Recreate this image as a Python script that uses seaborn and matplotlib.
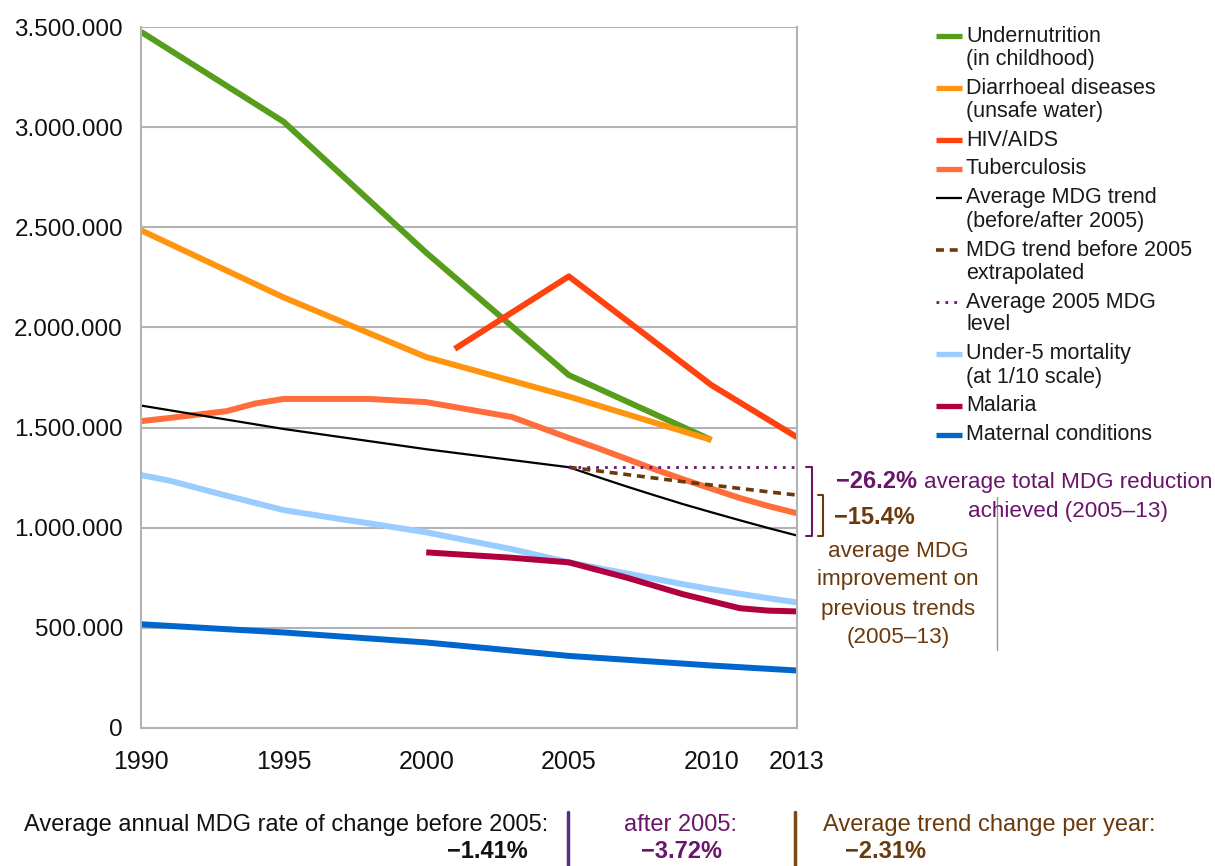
import matplotlib
matplotlib.use("Agg")
import matplotlib.pyplot as plt
import matplotlib.transforms as mtransforms
from matplotlib.lines import Line2D
from matplotlib.ticker import FuncFormatter
import pandas as pd
import seaborn as sns

# data (deaths per year)
undernutrition_years = [1990, 1995, 2000, 2005, 2010]
undernutrition = [3476000, 3027000, 2373000, 1762000, 1438000]

diarrhoea_years = [1990, 1995, 2000, 2005, 2010]
diarrhoea = [2485000, 2150000, 1852000, 1655000, 1438000]

hiv_years = [2001, 2005, 2010, 2013]
hiv = [1893000, 2255000, 1712000, 1452000]

tb_years = [1990, 1991, 1992, 1993, 1994, 1995, 1998, 2000, 2003, 2005,
            2006, 2007, 2008, 2009, 2010, 2011, 2012, 2013]
tb = [1532000, 1548000, 1565000, 1582000, 1620000, 1643000, 1643000, 1627000,
      1553000, 1448000, 1398000, 1345000, 1292000, 1242000, 1195000, 1148000,
      1108000, 1072000]

under5_years = [1990, 1991, 1993, 1995, 1997, 1998, 2000, 2003, 2005, 2009,
                2010, 2011, 2012, 2013]
under5 = [1263000, 1235000, 1160000, 1088000, 1043000, 1022000, 977000, 893000,
          827000, 718000, 693000, 670000, 648000, 627000]

malaria_years = [2000, 2003, 2005, 2007, 2009, 2011, 2012, 2013]
malaria = [877000, 850000, 827000, 752000, 668000, 598000, 586000, 582000]

maternal_years = [1990, 1995, 2000, 2005, 2010, 2013]
maternal = [518000, 477000, 427000, 360000, 312000, 287000]

trend_years = [1990, 1995, 2000, 2005, 2006, 2007, 2008, 2009, 2010, 2011, 2012, 2013]
trend = [1610000, 1493000, 1392000, 1302000, 1254000, 1207000, 1162000, 1118000,
         1077000, 1037000, 998000, 961000]

extrap_years = [2005, 2006, 2007, 2008, 2009, 2010, 2011, 2012, 2013]
extrap = [1302000, 1284000, 1266000, 1248000, 1230000, 1213000, 1196000, 1179000, 1163000]

level_years = [2005, 2013]
level = [1302000, 1302000]

x_labels = {1990: "1990", 1995: "1995", 2000: "2000", 2005: "2005", 2010: "2010", 2013: "2013"}

GREEN = "#579d1c"
ORANGE = "#ff950e"
HIV_RED = "#ff420e"
TB_COL = "#ff6d3a"
LBLUE = "#99ccff"
MALARIA = "#b0003f"
BLUE = "#0066cc"
PURPLE = "#6a146a"
BROWN = "#6b3a0c"
GRID = "#b3b3b3"

series = [
    ("Undernutrition\n(in childhood)", undernutrition_years, undernutrition, GREEN, "-", 4.3),
    ("Diarrhoeal diseases\n(unsafe water)", diarrhoea_years, diarrhoea, ORANGE, "-", 4.3),
    ("HIV/AIDS", hiv_years, hiv, HIV_RED, "-", 4.3),
    ("Tuberculosis", tb_years, tb, TB_COL, "-", 4.3),
    ("Average MDG trend\n(before/after 2005)", trend_years, trend, "black", "-", 1.6),
    ("MDG trend before 2005\nextrapolated", extrap_years, extrap, BROWN, (0, (2.2, 1.6)), 2.6),
    ("Average 2005 MDG\nlevel", level_years, level, PURPLE, (0, (1, 2.2)), 2.0),
    ("Under-5 mortality\n(at 1/10 scale)", under5_years, under5, LBLUE, "-", 4.3),
    ("Malaria", malaria_years, malaria, MALARIA, "-", 4.3),
    ("Maternal conditions", maternal_years, maternal, BLUE, "-", 4.3),
]
draw_order = [0, 1, 2, 3, 7, 8, 9, 4, 5, 6]

sns.set_theme(style="white")
plt.rcParams["font.family"] = ["Liberation Sans", "DejaVu Sans"]

W, H = 1215, 866
fig = plt.figure(figsize=(W / 100, H / 100), dpi=100)
ax = fig.add_axes([141 / W, 1 - 728 / H, 656 / W, 701 / H])


def fx(x):
    return x / W


def fy(y):
    return 1 - y / H


for i in draw_order:
    label, xs, ys, col, ls, lw = series[i]
    df = pd.DataFrame({"year": xs, "value": ys})
    sns.lineplot(data=df, x="year", y="value", ax=ax, color=col, linestyle=ls,
                 linewidth=lw, solid_capstyle="butt", dash_capstyle="butt")

ax.set_xlim(1990, 2013)
ax.set_ylim(0, 3500000)
ax.set_xlabel("")
ax.set_ylabel("")
ax.set_xticks(list(range(1990, 2014)))
ax.set_xticklabels([x_labels.get(y, "") for y in range(1990, 2014)])
ax.set_yticks(list(range(0, 3500001, 500000)))
ax.yaxis.set_major_formatter(FuncFormatter(lambda v, p: f"{int(v):,}".replace(",", ".")))
ax.tick_params(axis="x", direction="out", length=10, width=1.5, color=GRID,
               labelsize=18, labelcolor="#111111", pad=6)
ax.tick_params(axis="y", direction="out", length=8, width=1.5, color=GRID,
               labelsize=17.5, labelcolor="#111111", pad=5)
ax.grid(axis="y", color=GRID, linewidth=1.5)
ax.grid(axis="x", visible=False)
for side in ["left", "bottom", "right"]:
    ax.spines[side].set_color(GRID)
    ax.spines[side].set_linewidth(1.5)
    ax.spines[side].set_visible(True)
ax.spines["top"].set_visible(False)

# legend, handles aligned with the first line of each label
y = 36
for label, xs, ys, col, ls, lw in series:
    lines = label.split("\n")
    fig.add_artist(Line2D([fx(936), fx(962)], [fy(y), fy(y)], color=col,
                          linestyle=ls, linewidth=3.8 if lw > 3 else lw,
                          solid_capstyle="butt"))
    for k, line in enumerate(lines):
        fig.text(fx(966), fy(y + 23 * k), line, fontsize=15.5, color="#1a1a1a",
                 va="center", ha="left")
    y += 23 * (len(lines) - 1) + 29

# brackets at the right edge, y tied to data
bt = mtransforms.blended_transform_factory(fig.transFigure, ax.transData)
end_trend = trend[-1]
fig.add_artist(Line2D([fx(806), fx(812), fx(812), fx(806)],
                      [level[-1], level[-1], end_trend, end_trend],
                      transform=bt, color=PURPLE, linewidth=1.5))
fig.add_artist(Line2D([fx(818), fx(823), fx(823), fx(818)],
                      [extrap[-1], extrap[-1], end_trend, end_trend],
                      transform=bt, color=BROWN, linewidth=1.5))

fig.text(fx(836), fy(481), "\u221226.2%", fontsize=17, fontweight="bold",
         color=PURPLE, va="center", ha="left")
fig.text(fx(924), fy(483), "average total MDG reduction", fontsize=16.2,
         color=PURPLE, va="center", ha="left")
fig.text(fx(1068), fy(511), "achieved (2005\u201313)", fontsize=16.2,
         color=PURPLE, va="center", ha="center")
fig.text(fx(834), fy(518), "\u221215.4%", fontsize=17, fontweight="bold",
         color=BROWN, va="center", ha="left")
for k, line in enumerate(["average MDG", "improvement on", "previous trends", "(2005\u201313)"]):
    fig.text(fx(898), fy(551 + 29 * k), line, fontsize=16.2, color=BROWN,
             va="center", ha="center")
fig.add_artist(Line2D([fx(997), fx(997)], [fy(497), fy(650)], color="#999999",
                      linewidth=1))

# bottom summary
fig.text(fx(548), fy(825), "Average annual MDG rate of change before 2005:",
         fontsize=17, color="#111111", va="center", ha="right")
fig.text(fx(528), fy(852), "\u22121.41%", fontsize=17, fontweight="bold",
         color="#111111", va="center", ha="right")
fig.text(fx(680), fy(825), "after 2005:", fontsize=17, color=PURPLE,
         va="center", ha="center")
fig.text(fx(682), fy(852), "\u22123.72%", fontsize=17, fontweight="bold",
         color=PURPLE, va="center", ha="center")
fig.text(fx(823), fy(825), "Average trend change per year:", fontsize=17,
         color=BROWN, va="center", ha="left")
fig.text(fx(845), fy(852), "\u22122.31%", fontsize=17, fontweight="bold",
         color=BROWN, va="center", ha="left")
fig.add_artist(Line2D([fx(568), fx(568)], [fy(812), fy(866)], color="#5b2c83",
                      linewidth=2.5))
fig.add_artist(Line2D([fx(795), fx(795)], [fy(812), fy(866)], color="#7a4a14",
                      linewidth=2.5))

fig.savefig("out.png", dpi=100)
